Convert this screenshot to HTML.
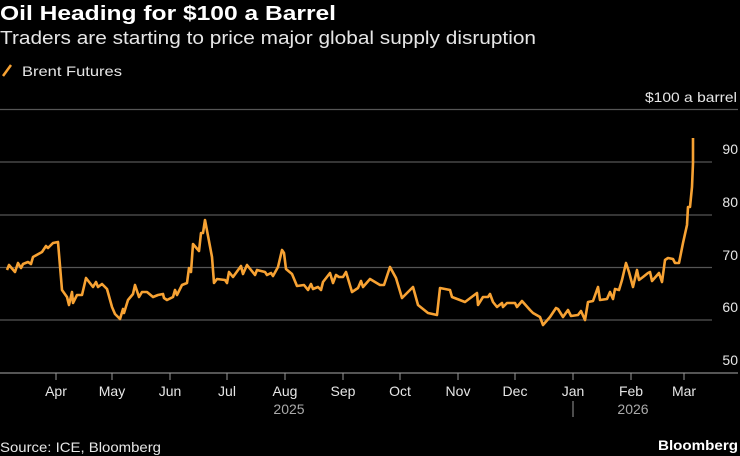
<!DOCTYPE html>
<html><head><style>
html,body{margin:0;padding:0;background:#000;}
body{width:740px;height:456px;overflow:hidden;font-family:"Liberation Sans",sans-serif;color:#e6e6e6;position:relative;}
</style></head><body>
<svg width="740" height="456" xmlns="http://www.w3.org/2000/svg" style="position:absolute;left:0;top:0">
<text x="0" y="20" font-size="20" font-weight="bold" fill="#fff" textLength="336" lengthAdjust="spacingAndGlyphs" font-family="Liberation Sans, sans-serif">Oil Heading for $100 a Barrel</text>
<text x="0" y="44" font-size="18" fill="#e6e6e6" textLength="536" lengthAdjust="spacingAndGlyphs" font-family="Liberation Sans, sans-serif">Traders are starting to price major global supply disruption</text>
<line x1="3" y1="76" x2="11" y2="65" stroke="#f7a233" stroke-width="2.5"/>
<text x="22" y="76" font-size="14" fill="#e6e6e6" textLength="100" lengthAdjust="spacingAndGlyphs" font-family="Liberation Sans, sans-serif">Brent Futures</text>
<text x="645" y="102" font-size="14" fill="#e6e6e6" textLength="92" lengthAdjust="spacingAndGlyphs" font-family="Liberation Sans, sans-serif">$100 a barrel</text>
<g stroke="#555" stroke-width="1.3">
<line x1="0" y1="109.5" x2="738" y2="109.5"/>
<line x1="0" y1="162" x2="712" y2="162"/>
<line x1="0" y1="215" x2="712" y2="215"/>
<line x1="0" y1="267.5" x2="712" y2="267.5"/>
<line x1="0" y1="320" x2="712" y2="320"/>
<line x1="0" y1="373" x2="738" y2="373" stroke="#888"/>
</g>
<g font-size="14" fill="#e6e6e6" text-anchor="end" font-family="Liberation Sans, sans-serif">
<text x="738" y="154">90</text><text x="738" y="207">80</text><text x="738" y="260">70</text><text x="738" y="312">60</text><text x="738" y="365">50</text>
</g>
<g stroke="#999" stroke-width="1">
<line x1="56" y1="373" x2="56" y2="380"/><line x1="112" y1="373" x2="112" y2="380"/><line x1="170" y1="373" x2="170" y2="380"/><line x1="227" y1="373" x2="227" y2="380"/><line x1="285" y1="373" x2="285" y2="380"/><line x1="343" y1="373" x2="343" y2="380"/><line x1="400" y1="373" x2="400" y2="380"/><line x1="458" y1="373" x2="458" y2="380"/><line x1="515" y1="373" x2="515" y2="380"/><line x1="573" y1="373" x2="573" y2="380"/><line x1="631" y1="373" x2="631" y2="380"/><line x1="684" y1="373" x2="684" y2="380"/>
<line x1="573" y1="401" x2="573" y2="417"/>
</g>
<g font-size="14" fill="#e6e6e6" text-anchor="middle" font-family="Liberation Sans, sans-serif">
<text x="56" y="396">Apr</text><text x="112" y="396">May</text><text x="170" y="396">Jun</text><text x="227" y="396">Jul</text><text x="285" y="396">Aug</text><text x="343" y="396">Sep</text><text x="400" y="396">Oct</text><text x="458" y="396">Nov</text><text x="515" y="396">Dec</text><text x="573" y="396">Jan</text><text x="631" y="396">Feb</text><text x="684" y="396">Mar</text>
<text x="289" y="414" fill="#aaa">2025</text><text x="633" y="414" fill="#aaa">2026</text>
</g>
<text x="0" y="452" font-size="14" fill="#e6e6e6" textLength="161" lengthAdjust="spacingAndGlyphs" font-family="Liberation Sans, sans-serif">Source: ICE, Bloomberg</text>
<text x="658" y="450" font-size="14" font-weight="bold" fill="#fff" textLength="80" lengthAdjust="spacingAndGlyphs" font-family="Liberation Sans, sans-serif">Bloomberg</text>
<polyline fill="none" stroke="#f7a233" stroke-width="2.6" stroke-linejoin="round" points="7,270 9,265 15,272 18,263 21,268 23,264 28,262 31,264 33,257 42,252 46,246 48,248 53,243 58,242 62,290 67,297 69,305 72,292 73,303 77,295 82,295 86,278 93,287 96,282 98,287 102,284 107,289 112,307 115,314 120,319 123,309 124,313 128,300 133,294 135,285 139,297 142,292 147,292 153,297 158,295 163,294 164,298 167,300 173,297 175,290 177,295 182,285 187,283 189,268 191,272 193,244 199,251 201,233 203,233 205,220 212,257 214,283 217,279 225,280 227,283 229,272 233,277 241,266 243,274 247,265 255,275 257,270 265,272 267,275 271,273 273,276 278,267 282,250 284,253 286,269 292,274 297,286 304,285 308,290 311,284 313,289 318,287 321,290 323,282 330,273 333,283 336,275 339,277 343,277 346,272 349,282 352,292 358,288 361,281 363,287 370,279 375,282 380,285 384,285 390,267 396,278 402,298 413,287 418,305 428,313 437,315 440,288 450,290 452,297 465,302 477,293 478,305 483,297 488,297 490,294 493,302 497,307 502,303 503,307 507,303 515,303 517,307 522,301 530,310 533,313 540,317 543,325 550,317 556,308 558,309 563,317 568,310 571,316 578,315 581,311 585,320 588,302 593,301 598,287 600,300 607,299 610,292 613,299 615,289 619,290 622,280 626,263 629,272 633,287 637,270 639,280 643,277 648,273 650,272 652,281 659,273 662,282 665,260 668,258 673,259 675,263 679,263 683,243 687,225 688,207 690,207 692,187 693,163 693,138"/>
</svg>
</body></html>
